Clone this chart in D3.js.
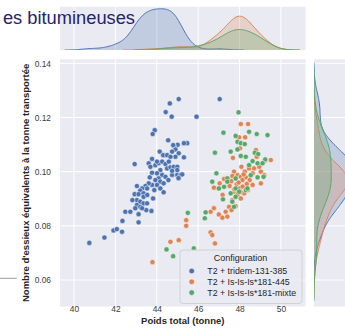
<!DOCTYPE html>
<html><head><meta charset="utf-8">
<script src="https://cdn.jsdelivr.net/npm/d3@7"></script>
<style>body{margin:0;background:#fff}svg{display:block}</style>
</head><body><svg id="c" width="345" height="334"></svg>
<script>
const categories = ["T2 + tridem-131-385", "T2 + Is-Is-Is*181-445", "T2 + Is-Is-Is*181-mixte"];
const colors = ["#4C72B0", "#DD8452", "#55A868"];
const xTicks = [40, 42, 44, 46, 48, 50];
const yTicks = [0.06, 0.08, 0.10, 0.12, 0.14];
const xLabel = "Poids total (tonne)";
const yLabel = "Nombre d'essieux équivalents à la tonne transportée";
const legendTitle = "Configuration";
const titleText = "es bitumineuses";

const tridem = [[45.06,0.1268],[44.63,0.1252],[44.43,0.1220],[44.72,0.1203],[45.92,0.1203],[47.04,0.1268],[43.90,0.1153],[43.80,0.1139],[44.55,0.1116],[45.01,0.1099],[45.47,0.1105],[42.93,0.1028],[40.74,0.0737],[41.47,0.0757],[41.91,0.0783],[42.07,0.0788],[42.32,0.0778],[42.34,0.0818],[43.12,0.0813],[42.48,0.0852],[42.72,0.0852],[43.12,0.0843],[43.74,0.0855],[43.49,0.0858],[43.61,0.1031],[43.69,0.1018],[43.93,0.1024],[44.09,0.1031],[44.26,0.1037],[44.42,0.1028],[44.58,0.1037],[44.50,0.1012],[44.66,0.1016],[44.17,0.1006],[44.01,0.0994],[44.26,0.0988],[44.42,0.0981],[44.09,0.0975],[43.93,0.0969],[44.17,0.0963],[44.33,0.0957],[44.01,0.0951],[43.77,0.0951],[43.61,0.0957],[43.45,0.0947],[43.53,0.0938],[43.29,0.0938],[43.04,0.0947],[43.20,0.0930],[42.93,0.0917],[43.12,0.0917],[43.36,0.0920],[43.88,0.0932],[44.17,0.0938],[44.33,0.0924],[43.82,0.0901],[43.36,0.0907],[43.04,0.0895],[43.20,0.0889],[43.36,0.0883],[43.04,0.0877],[43.20,0.0870],[43.53,0.0883],[43.29,0.0865],[42.96,0.0865],[44.82,0.1018],[44.99,0.1018],[44.74,0.0988],[44.99,0.0988],[43.66,0.0979],[43.77,0.0996],[44.74,0.1003],[44.82,0.1095],[44.90,0.1082],[44.74,0.1074],[45.06,0.1068],[44.90,0.1055],[45.31,0.1053],[44.14,0.1074],[44.31,0.1061],[44.50,0.1061],[44.66,0.1055],[43.77,0.1047],[44.01,0.1037],[45.15,0.0988],[45.05,0.0976],[44.79,0.1098],[45.31,0.1105],[45.23,0.0990],[44.99,0.1006],[44.56,0.0969],[43.54,0.0914],[42.82,0.0895]];

const isis445 = [[48.06,0.1176],[48.41,0.1176],[47.98,0.1127],[48.27,0.1127],[48.02,0.1086],[47.68,0.1051],[48.79,0.1080],[48.83,0.1055],[48.99,0.1024],[49.51,0.1043],[49.22,0.1040],[48.09,0.1018],[48.25,0.1000],[48.46,0.1012],[48.70,0.1012],[48.95,0.1018],[47.73,0.1000],[47.90,0.0987],[47.65,0.0984],[48.06,0.0981],[48.30,0.0979],[48.63,0.0994],[49.03,0.1000],[49.19,0.0987],[47.04,0.0957],[46.76,0.0941],[47.25,0.0973],[48.14,0.0969],[48.63,0.0951],[49.03,0.0957],[47.98,0.0938],[47.73,0.0926],[48.22,0.0920],[48.06,0.0901],[47.65,0.0895],[47.49,0.0870],[47.33,0.0852],[47.61,0.0858],[47.00,0.0842],[47.17,0.0830],[47.41,0.0834],[46.76,0.0865],[46.60,0.0852],[45.42,0.0821],[45.42,0.0800],[46.60,0.0776],[46.68,0.0766],[46.81,0.0735],[44.66,0.0741],[45.06,0.0747],[43.79,0.0666],[48.40,0.0932],[47.86,0.0954],[48.49,0.0969],[47.52,0.0947],[47.18,0.0914],[47.81,0.0873],[47.95,0.0960],[48.15,0.0945],[47.75,0.0935],[48.35,0.0955],[47.90,0.0915],[48.05,0.0925],[47.60,0.0965],[48.20,0.0990]];

const isisMixte = [[47.95,0.1219],[47.22,0.1144],[47.81,0.1132],[48.46,0.1147],[48.83,0.1139],[49.35,0.1135],[47.90,0.1110],[48.06,0.1105],[48.25,0.1102],[46.81,0.1070],[47.57,0.1074],[48.06,0.1058],[48.74,0.1070],[48.90,0.1065],[49.24,0.1045],[47.90,0.1082],[48.30,0.1055],[48.46,0.1024],[48.87,0.1031],[46.88,0.0994],[47.41,0.0975],[47.81,0.0975],[48.87,0.0979],[46.68,0.0963],[47.00,0.0938],[47.41,0.0963],[47.81,0.0938],[47.57,0.0920],[47.81,0.0907],[47.98,0.0926],[48.30,0.0932],[47.65,0.0889],[47.73,0.0870],[46.36,0.0850],[45.50,0.0848],[46.32,0.0828],[45.79,0.0717],[44.47,0.0713],[44.79,0.0688],[47.20,0.0898],[48.63,0.1039],[49.11,0.1031],[49.16,0.0981],[48.54,0.0987],[48.38,0.0938],[47.25,0.0944]];

const series = [tridem, isis445, isisMixte];

const FONT = "'Liberation Sans', Arial, sans-serif";
const BG = "#EAEAF2";
const main = {l: 60, r: 305.5, t: 59.3, b: 306.5};
const mtop = {t: 6.7, b: 50};
const mright = {l: 314, r: 357};

const svg = d3.select("#c");
const x = d3.scaleLinear().domain([39.322, 51.186]).range([main.l, main.r]);
const y = d3.scaleLinear().domain([0.05022, 0.141477]).range([main.b, main.t]);

const defs = svg.append("defs");
defs.append("clipPath").attr("id","cm").append("rect").attr("x",main.l).attr("y",main.t).attr("width",main.r-main.l).attr("height",main.b-main.t);
defs.append("clipPath").attr("id","ct").append("rect").attr("x",main.l).attr("y",mtop.t).attr("width",main.r-main.l).attr("height",mtop.b-mtop.t);
defs.append("clipPath").attr("id","cr").append("rect").attr("x",mright.l).attr("y",main.t).attr("width",mright.r-mright.l).attr("height",main.b-main.t);

// backgrounds
svg.append("rect").attr("x",main.l).attr("y",main.t).attr("width",main.r-main.l).attr("height",main.b-main.t).attr("fill",BG);
svg.append("rect").attr("x",main.l).attr("y",mtop.t).attr("width",main.r-main.l).attr("height",mtop.b-mtop.t).attr("fill",BG);
svg.append("rect").attr("x",mright.l).attr("y",main.t).attr("width",mright.r-mright.l).attr("height",main.b-main.t).attr("fill",BG);

// grid
const g = svg.append("g").attr("stroke","#fff").attr("stroke-width",1);
xTicks.forEach(t => {
  g.append("line").attr("x1",x(t)).attr("x2",x(t)).attr("y1",main.t).attr("y2",main.b);
  g.append("line").attr("x1",x(t)).attr("x2",x(t)).attr("y1",mtop.t).attr("y2",mtop.b);
});
yTicks.forEach(t => {
  g.append("line").attr("x1",main.l).attr("x2",main.r).attr("y1",y(t)).attr("y2",y(t));
  g.append("line").attr("x1",mright.l).attr("x2",mright.r).attr("y1",y(t)).attr("y2",y(t));
});

// KDE (gaussian, Scott bandwidth, common normalisation)
function kde(vals) {
  const n = vals.length, sd = d3.deviation(vals);
  const bw = sd * Math.pow(n, -0.2);
  const lo = d3.min(vals) - 3*bw, hi = d3.max(vals) + 3*bw;
  const pts = [];
  for (let i = 0; i < 200; i++) {
    const gv = lo + (hi-lo)*i/199;
    let s = 0;
    for (const v of vals) { const z = (gv-v)/bw; s += Math.exp(-0.5*z*z); }
    pts.push([gv, s/(n*bw*Math.sqrt(2*Math.PI))]);
  }
  return pts;
}
const N = d3.sum(series, s => s.length);
const kx = series.map(s => kde(s.map(d=>d[0])).map(p => [p[0], p[1]*s.length/N]));
const ky = series.map(s => kde(s.map(d=>d[1])).map(p => [p[0], p[1]*s.length/N]));
const mxmax = d3.max(kx, a => d3.max(a, p=>p[1]));
const mymax = d3.max(ky, a => d3.max(a, p=>p[1]));
const ytop = d3.scaleLinear().domain([0, mxmax*1.05]).range([mtop.b, mtop.t]);
const xright = d3.scaleLinear().domain([0, mymax*1.05]).range([mright.l, mright.r]);

const gt = svg.append("g").attr("clip-path","url(#ct)");
const gr = svg.append("g").attr("clip-path","url(#cr)");
kx.forEach((a, i) => {
  gt.append("path").datum(a).attr("d", d3.area().x(p=>x(p[0])).y0(ytop(0)).y1(p=>ytop(p[1])))
    .attr("fill", colors[i]).attr("fill-opacity",0.25);
  gt.append("path").datum(a).attr("d", d3.line().x(p=>x(p[0])).y(p=>ytop(p[1])))
    .attr("fill","none").attr("stroke", colors[i]).attr("stroke-width",1);
});
ky.forEach((a, i) => {
  gr.append("path").datum(a).attr("d", d3.area().y(p=>y(p[0])).x0(xright(0)).x1(p=>xright(p[1])))
    .attr("fill", colors[i]).attr("fill-opacity",0.25);
  gr.append("path").datum(a).attr("d", d3.line().y(p=>y(p[0])).x(p=>xright(p[1])))
    .attr("fill","none").attr("stroke", colors[i]).attr("stroke-width",1);
});

// scatter
const gs = svg.append("g").attr("clip-path","url(#cm)");
series.forEach((s, i) => {
  gs.selectAll(null).data(s).enter().append("circle")
    .attr("cx", d=>x(d[0])).attr("cy", d=>y(d[1])).attr("r", 2.6)
    .attr("fill", colors[i]).attr("stroke","#fff").attr("stroke-width",0.5);
});

// axes
const ax = svg.append("g").attr("transform",`translate(0,${main.b})`)
  .call(d3.axisBottom(x).tickValues(xTicks).tickSize(0).tickPadding(0).tickFormat(d3.format("d")));
const ay = svg.append("g").attr("transform",`translate(${main.l},0)`)
  .call(d3.axisLeft(y).tickValues(yTicks).tickSize(0).tickPadding(9).tickFormat(d3.format(".2f")));
[ax, ay].forEach(a => {
  a.select(".domain").remove();
  a.selectAll("text").attr("font-family",FONT).attr("font-size",8.4).attr("fill","#3c3c3c");
});

svg.append("text").attr("x",(main.l+main.r)/2).attr("y",324.3).attr("text-anchor","middle")
  .attr("font-family",FONT).attr("font-size",9.5).attr("font-weight","bold").attr("fill","#262626").text(xLabel);
svg.append("text").attr("transform",`translate(29,${(main.t+main.b)/2}) rotate(-90)`).attr("text-anchor","middle")
  .attr("font-family",FONT).attr("font-size",9.5).attr("font-weight","bold").attr("fill","#262626").text(yLabel);

// legend
const lg = svg.append("g");
lg.append("rect").attr("x",180).attr("y",250).attr("width",122).attr("height",53.5).attr("rx",3)
  .attr("fill",BG).attr("fill-opacity",0.85).attr("stroke","#cccccc").attr("stroke-width",0.8);
lg.append("text").attr("x",240.5).attr("y",260.5).attr("text-anchor","middle")
  .attr("font-family",FONT).attr("font-size",9).attr("fill","#262626").text(legendTitle);
categories.forEach((c, i) => {
  const by = 274.2 + i*10.8;
  lg.append("circle").attr("cx",191.7).attr("cy",by-3.2).attr("r",2.8).attr("fill",colors[i])
    .attr("stroke","#fff").attr("stroke-width",0.5);
  lg.append("text").attr("x",207.3).attr("y",by).attr("font-family",FONT).attr("font-size",8.8)
    .attr("fill","#262626").text(c);
});

// title (cropped in the source image) and stray line
svg.append("line").attr("x1",0).attr("x2",16.7).attr("y1",278.3).attr("y2",278.3).attr("stroke","#9a9a9a").attr("stroke-width",1);
svg.append("text").attr("x",135).attr("y",24.3).attr("text-anchor","end")
  .attr("font-family",FONT).attr("font-size",18.3).attr("fill","#24246e").text(titleText);
</script></body></html>
